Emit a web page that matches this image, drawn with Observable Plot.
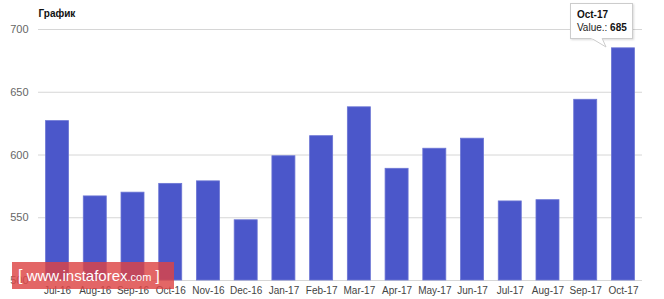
<!DOCTYPE html>
<html><head><meta charset="utf-8">
<script src="https://cdn.jsdelivr.net/npm/d3@7"></script>
<script src="https://cdn.jsdelivr.net/npm/@observablehq/plot@0.6"></script>
<style>
body{margin:0;background:#fff;font-family:Arial,"Liberation Sans",sans-serif;}
#wrap{position:relative;width:664px;height:299px;overflow:hidden;}
#tip{position:absolute;box-sizing:border-box;background:#fff;border:1px solid #ccc;box-shadow:1px 1px 2px rgba(0,0,0,0.15);font-size:10px;line-height:13px;padding:4px 6px 4px 6px;color:#222;white-space:nowrap;}
#tip b{color:#111}
#wm{position:absolute;left:12px;top:262px;width:162px;height:27px;background:rgba(221,68,68,0.82);color:#fff;font-size:15px;line-height:27px;white-space:nowrap;}
</style></head>
<body><div id="wrap"></div>
<script>
const title = "График";
const months = ["Jul-16","Aug-16","Sep-16","Oct-16","Nov-16","Dec-16","Jan-17","Feb-17","Mar-17","Apr-17","May-17","Jun-17","Jul-17","Aug-17","Sep-17","Oct-17"];
const values = [627,567,570,577,579,548,599,615,638,589,605,613,563,564,644,685];
const yTicks = [500,550,600,650,700];
const tipMonth = "Oct-17";
const tipLabel = "Value.:";
const watermark = ["[", "www.instaforex", ".com", "]"];

const data = months.map((m,i)=>({month:m, value:values[i]}));

const chart = Plot.plot({
  width:664, height:299,
  marginLeft:38, marginRight:22, marginTop:29, marginBottom:19,
  style:{fontFamily:"Arial, 'Liberation Sans', sans-serif", background:"#fff"},
  x:{domain:months, paddingInner:0.39, paddingOuter:0.2, round:false, label:null},
  y:{domain:[500,700], label:null},
  marks:[
    Plot.ruleY(yTicks,{stroke:"#d6d6d6", strokeWidth:1}),
    Plot.barY(data,{x:"month", y1:500, y2:"value", fill:"#4b57ca", stroke:"#6b75d4", strokeWidth:0.8}),
    Plot.axisY(yTicks,{tickSize:0, tickPadding:10, fontSize:11, fill:"#666", label:null}),
    Plot.axisX({tickSize:0, tickPadding:6, fontSize:10, fill:"#444", label:null}),
    Plot.text([title],{frameAnchor:"top-left", dy:-20, textAnchor:"start", fontWeight:"bold", fontSize:10, fill:"#111"})
  ]
});
const wrap = document.getElementById("wrap");
wrap.appendChild(chart);

// tooltip anchored to the Oct-17 bar via the chart's scales
const xs = chart.scale("x"), ys = chart.scale("y");
const idx = months.indexOf(tipMonth);
const cx = xs.apply(tipMonth) + xs.bandwidth/2;
const cy = ys.apply(values[idx]);
const tip = document.createElement("div");
tip.id = "tip";
tip.innerHTML = `<b>${tipMonth}</b><br>${tipLabel} <b>${values[idx]}</b>`;
tip.style.left = (cx - 53) + "px";
tip.style.top = (cy - 45) + "px";
tip.style.width = "63px";
tip.style.height = "36px";
wrap.appendChild(tip);
const ptr = document.createElementNS("http://www.w3.org/2000/svg","svg");
ptr.setAttribute("width","20"); ptr.setAttribute("height","12");
ptr.style.position="absolute"; ptr.style.left=(cx-33)+"px"; ptr.style.top=(cy-10)+"px";
ptr.innerHTML = '<path d="M1,0 L16,9 L12,0" fill="#fff" stroke="#ccc" stroke-width="1"/><rect x="1.5" y="-1" width="10" height="1.6" fill="#fff"/>';
wrap.appendChild(ptr);

const wm = document.createElement("div");
wm.id="wm";
wm.innerHTML = `<span style="margin-left:6px;font-size:16px">${watermark[0]}</span> <span style="font-size:15px">${watermark[1]}</span><span style="font-size:11px">${watermark[2]}</span> <span style="font-size:15px">${watermark[3]}</span>`;
wrap.appendChild(wm);
</script></body></html>
